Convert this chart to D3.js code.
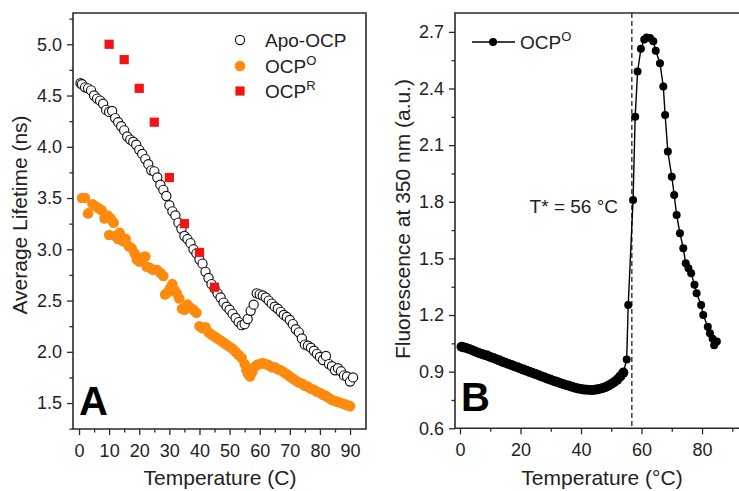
<!DOCTYPE html>
<html><head><meta charset="utf-8">
<script src="https://cdn.jsdelivr.net/npm/d3@7"></script>
<style>body{margin:0;background:#fff}svg{display:block;font-family:"Liberation Sans",Arial,sans-serif}</style>
</head><body><svg id="c" width="739" height="491"></svg>
<script>
// ---------- Panel A data ----------
const apoT = [0.5,1,2,3,4,5,6,7,8,9,10,11,12,13,14,15,16,17,18,19,20,21,22,23,24,25,26,27,28,29,30,31,32,33,34,35,36,37,38,39,40,41,42,43,44,45,46,47,48,49,50,51,52,53,54,55,56,57,58,59,60,61,62,63,64,65,66,67,68,69,70,71,72,73,74,75,76,77,78,79,80,81,82,83,84,85,86,87,88,89,90,91];
const apoV = [4.62,4.61,4.58,4.57,4.55,4.50,4.47,4.45,4.42,4.36,4.34,4.35,4.28,4.24,4.20,4.16,4.10,4.07,4.05,4.02,3.97,3.93,3.88,3.83,3.77,3.76,3.70,3.63,3.58,3.52,3.43,3.37,3.33,3.26,3.20,3.13,3.10,3.06,3.00,2.96,2.90,2.86,2.78,2.72,2.66,2.62,2.57,2.53,2.48,2.44,2.41,2.37,2.33,2.29,2.26,2.27,2.32,2.40,2.46,2.57,2.56,2.55,2.53,2.50,2.47,2.44,2.42,2.39,2.36,2.34,2.31,2.27,2.22,2.19,2.13,2.07,2.06,2.04,2.01,1.98,1.95,1.92,1.96,1.88,1.86,1.82,1.84,1.81,1.77,1.76,1.71,1.75];
const ocpOT = [1,2,3,4.5,5.5,6.5,7.5,8.5,9.5,10,10.5,11.5,12,13,13.5,14.5,15.5,16.5,17.5,18.5,19.2,20,21,22,22.5,23.5,24.5,25.8,27,28,28.6,29.5,30.2,31,31.8,32.5,33.3,34.2,35,36,37,38,39,40,41,42,43,44,45,46,47,48,49,50,51,52,53,54,55,55.6,56.2,56.8,57.5,58.2,59,60,61,62,63,64,65,66,67,68,69,70,71,72,73,74,75,76,77,78,79,80,81,82,83,84,85,86,87,88,89,90];
const ocpOV = [3.50,3.50,3.35,3.44,3.42,3.40,3.38,3.30,3.33,3.14,3.30,3.26,3.13,3.10,3.16,3.08,3.10,3.03,3.01,2.96,2.90,2.88,2.92,2.93,2.83,2.82,2.80,2.80,2.77,2.74,2.56,2.58,2.62,2.66,2.60,2.57,2.52,2.42,2.41,2.46,2.43,2.41,2.38,2.25,2.23,2.24,2.19,2.17,2.15,2.13,2.11,2.09,2.07,2.05,2.03,2.00,1.97,1.94,1.88,1.82,1.78,1.76,1.80,1.85,1.87,1.88,1.89,1.88,1.87,1.85,1.85,1.83,1.82,1.80,1.78,1.76,1.74,1.72,1.70,1.69,1.67,1.66,1.64,1.63,1.61,1.60,1.58,1.57,1.55,1.53,1.52,1.51,1.50,1.49,1.48,1.47];
const ocpRT = [10,15,20,25,30,35,40,45];
const ocpRV = [5.00,4.85,4.57,4.24,3.70,3.25,2.97,2.63];
const aXTicks = [0,10,20,30,40,50,60,70,80,90];
const aYTicks = [1.5,2.0,2.5,3.0,3.5,4.0,4.5,5.0];

// ---------- Panel B data ----------
const bT = [0.5,1,2,3,4,5,6,7,8,9,10,11,12,13,14,15,16,17,18,19,20,21,22,23,24,25,26,27,28,29,30,31,32,33,34,35,36,37,38,39,40,41,42,43,44,45,46,47,48,49,50,51,52,53,54,55.1,55.6,57.2,57.9,58.7,59.8,60.9,61.7,62.8,63.9,64.7,66.1,67.2,67.8,68.7,70.0,70.8,71.6,72.7,73.8,74.6,75.5,76.4,77.5,78.2,79.7,80.4,81.9,82.6,83.5,84.0,84.9];
const bV = [1.032,1.030,1.025,1.020,1.013,1.007,1.000,0.995,0.990,0.985,0.978,0.972,0.966,0.960,0.953,0.947,0.941,0.935,0.929,0.923,0.917,0.911,0.905,0.899,0.893,0.887,0.881,0.875,0.869,0.863,0.857,0.851,0.846,0.840,0.835,0.830,0.825,0.820,0.815,0.811,0.808,0.805,0.804,0.803,0.803,0.805,0.808,0.812,0.818,0.825,0.835,0.845,0.858,0.875,0.895,0.965,1.253,1.81,2.25,2.49,2.61,2.66,2.67,2.667,2.65,2.60,2.534,2.41,2.26,2.066,1.933,1.836,1.73,1.633,1.554,1.474,1.448,1.421,1.36,1.315,1.253,1.20,1.138,1.103,1.075,1.04,1.06];
const bXTicks = [0,20,40,60,80];
const bYTicks = [0.6,0.9,1.2,1.5,1.8,2.1,2.4,2.7];
const tStar = 56.8;

const svg = d3.select("#c");
const axisColor = "#2a2a2a";

function styleAxis(g){
  g.selectAll("path").remove();
  g.selectAll("line").attr("stroke", axisColor).attr("stroke-width", 1.3);
  g.selectAll("text").attr("fill", "#222").style("font-size", "18px").style("font-family", '"Liberation Sans", Arial, sans-serif');
}

function frame(x0, y0, x1, y1){
  svg.append("path").attr("d", `M${x0},${y1}V${y0}H${x1}V${y1}H${x0}Z`)
    .attr("fill", "none").attr("stroke", axisColor).attr("stroke-width", 1.6);
}

// ================= Panel A =================
{
  const L = 73, T = 13, R = 366, B = 429;
  const x = d3.scaleLinear().domain([-2, 95.3]).range([L, R]);
  const y = d3.scaleLinear().domain([1.247, 5.305]).range([B, T]);

  svg.append("g").attr("transform", `translate(0,${B})`)
    .call(d3.axisBottom(x).tickValues(d3.range(5, 95, 10)).tickSize(3.5).tickFormat(""))
    .call(styleAxis);
  svg.append("g").attr("transform", `translate(${L},0)`)
    .call(d3.axisLeft(y).tickValues(d3.range(1.25, 5.3, 0.5)).tickSize(3.5).tickFormat(""))
    .call(styleAxis);
  svg.append("g").attr("transform", `translate(0,${B})`)
    .call(d3.axisBottom(x).tickValues(aXTicks).tickSize(6).tickPadding(9).tickFormat(d3.format("d")))
    .call(styleAxis);
  svg.append("g").attr("transform", `translate(${L},0)`)
    .call(d3.axisLeft(y).tickValues(aYTicks).tickSize(6).tickPadding(5).tickFormat(d3.format(".1f")))
    .call(styleAxis);

  frame(L, T, R, B);

  const plot = svg.append("g");
  plot.selectAll("circle.o").data(ocpOT.map((t,i)=>[t, ocpOV[i]])).join("circle")
    .attr("cx", d=>x(d[0])).attr("cy", d=>y(d[1])).attr("r", 5.3).attr("fill", "#ff8a0d");
  plot.selectAll("circle.a").data(apoT.map((t,i)=>[t, apoV[i]])).join("circle")
    .attr("cx", d=>x(d[0])).attr("cy", d=>y(d[1])).attr("r", 4.6)
    .attr("fill", "#fff").attr("stroke", "#111").attr("stroke-width", 1.15);
  plot.selectAll("rect.r").data(ocpRT.map((t,i)=>[t, ocpRV[i]])).join("rect")
    .attr("x", d=>x(d[0])-4.6).attr("y", d=>y(d[1])-4.6).attr("width", 9.2).attr("height", 9.2).attr("fill", "#f01414");

  const lg = svg.append("g").style("font-size", "19px").attr("fill", "#222");
  lg.append("circle").attr("cx", 240).attr("cy", 40).attr("r", 4.6).attr("fill", "#fff").attr("stroke", "#111").attr("stroke-width", 1.15);
  lg.append("text").attr("x", 265).attr("y", 47).text("Apo-OCP");
  lg.append("circle").attr("cx", 240).attr("cy", 66).attr("r", 5.3).attr("fill", "#ff8a0d");
  const t1 = lg.append("text").attr("x", 265).attr("y", 73).text("OCP");
  t1.append("tspan").attr("dy", -8).style("font-size", "13px").text("O");
  lg.append("rect").attr("x", 235.4).attr("y", 86.4).attr("width", 9.2).attr("height", 9.2).attr("fill", "#f01414");
  const t2 = lg.append("text").attr("x", 265).attr("y", 98).text("OCP");
  t2.append("tspan").attr("dy", -8).style("font-size", "13px").text("R");

  svg.append("text").attr("x", 220).attr("y", 485).attr("text-anchor", "middle")
    .style("font-size", "21px").attr("fill", "#222").text("Temperature (C)");
  svg.append("text").attr("transform", "translate(27,215) rotate(-90)").attr("text-anchor", "middle")
    .style("font-size", "21px").attr("fill", "#222").text("Average Lifetime (ns)");
  svg.append("text").attr("x", 79).attr("y", 415).style("font-size", "40px").style("font-weight", "bold")
    .attr("fill", "#000").text("A");
}

// ================= Panel B =================
{
  const L = 455, T = 13, R = 745, B = 428.3;
  const x = d3.scaleLinear().domain([-1.65, 94.2]).range([L, R]);
  const y = d3.scaleLinear().domain([0.6, 2.8]).range([B, T]);

  svg.append("g").attr("transform", `translate(0,${B})`)
    .call(d3.axisBottom(x).tickValues([10,30,50,70,90]).tickSize(3.5).tickFormat(""))
    .call(styleAxis);
  svg.append("g").attr("transform", `translate(${L},0)`)
    .call(d3.axisLeft(y).tickValues(d3.range(0.75, 2.8, 0.3)).tickSize(3.5).tickFormat(""))
    .call(styleAxis);
  svg.append("g").attr("transform", `translate(0,${B})`)
    .call(d3.axisBottom(x).tickValues(bXTicks).tickSize(6).tickPadding(9).tickFormat(d3.format("d")))
    .call(styleAxis);
  svg.append("g").attr("transform", `translate(${L},0)`)
    .call(d3.axisLeft(y).tickValues(bYTicks).tickSize(6).tickPadding(5).tickFormat(d3.format(".1f")))
    .call(styleAxis);

  frame(L, T, R, B);

  svg.append("line").attr("x1", x(tStar)).attr("x2", x(tStar)).attr("y1", T).attr("y2", B)
    .attr("stroke", "#222").attr("stroke-width", 1.3).attr("stroke-dasharray", "5,3");

  const pts = bT.map((t,i)=>[t, bV[i]]);
  svg.append("path").datum(pts).attr("d", d3.line().x(d=>x(d[0])).y(d=>y(d[1])))
    .attr("fill", "none").attr("stroke", "#000").attr("stroke-width", 1.4);
  svg.append("g").selectAll("circle").data(pts).join("circle")
    .attr("cx", d=>x(d[0])).attr("cy", d=>y(d[1])).attr("r", d=>d[0] < 55 ? 5 : 4).attr("fill", "#000");

  const lg = svg.append("g").style("font-size", "19px").attr("fill", "#222");
  lg.append("line").attr("x1", 472).attr("x2", 515).attr("y1", 42).attr("y2", 42).attr("stroke", "#000").attr("stroke-width", 1.4);
  lg.append("circle").attr("cx", 493).attr("cy", 42).attr("r", 4).attr("fill", "#000");
  const tb = lg.append("text").attr("x", 520).attr("y", 49).text("OCP");
  tb.append("tspan").attr("dy", -8).style("font-size", "13px").text("O");

  svg.append("text").attr("x", 618).attr("y", 213).attr("text-anchor", "end")
    .style("font-size", "19px").attr("fill", "#222").text("T* = 56 °C");

  svg.append("text").attr("x", 602).attr("y", 485).attr("text-anchor", "middle")
    .style("font-size", "21px").attr("fill", "#222").text("Temperature (°C)");
  svg.append("text").attr("transform", "translate(410,219) rotate(-90)").attr("text-anchor", "middle")
    .style("font-size", "21px").attr("fill", "#222").text("Fluorescence at 350 nm (a.u.)");
  svg.append("text").attr("x", 461).attr("y", 411).style("font-size", "40px").style("font-weight", "bold")
    .attr("fill", "#000").text("B");
}
</script></body></html>
